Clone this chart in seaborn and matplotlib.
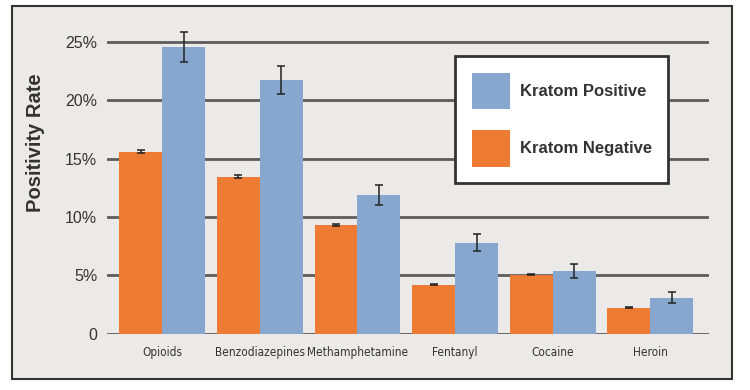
"""Positivity rate by drug class, kratom positive vs negative."""
import matplotlib
matplotlib.use("Agg")
import matplotlib.pyplot as plt
from matplotlib import font_manager
from matplotlib.patches import Patch, Rectangle
import pandas as pd
import seaborn as sns

# data (percent)
drugs = ["Opioids", "Benzodiazepines", "Methamphetamine", "Fentanyl", "Cocaine", "Heroin"]
negative = [15.6, 13.45, 9.3, 4.17, 5.03, 2.2]
negative_err = [0.1, 0.12, 0.08, 0.05, 0.05, 0.04]
positive = [24.55, 21.75, 11.9, 7.78, 5.38, 3.05]
positive_err = [1.3, 1.2, 0.87, 0.72, 0.6, 0.47]
groups = ["Kratom Negative", "Kratom Positive"]
yticks = [0, 5, 10, 15, 20, 25]
ytick_labels = ["0", "5%", "10%", "15%", "20%", "25%"]

ORANGE = "#EE7B33"
BLUE = "#88A7CF"
BG = "#EBEAE8"
TEXT = "#333333"

df = pd.DataFrame({
    "drug": drugs * 2,
    "group": [groups[0]] * len(drugs) + [groups[1]] * len(drugs),
    "rate": negative + positive,
})
errs = {groups[0]: negative_err, groups[1]: positive_err}

sns.set_style("white")
plt.rcParams["font.family"] = ["Liberation Sans", "DejaVu Sans"]

# narrow face for category labels, if one is installed
fonts = font_manager.fontManager.ttflist
names = {f.name for f in fonts}
if "Liberation Sans Narrow" in names:
    cat_font = dict(family="Liberation Sans Narrow", size=9.5, weight="bold")
elif any(f.name == "DejaVu Sans" and f.stretch == "condensed" for f in fonts):
    cat_font = dict(family="DejaVu Sans", stretch="condensed", size=8.5, weight="normal")
else:
    cat_font = dict(family="Liberation Sans", size=8.5, weight="normal")

fig = plt.figure(figsize=(7.5, 3.9), dpi=100)
fig.patch.set_facecolor("white")
# grey panel with dark frame, behind everything
panel = Rectangle((12 / 750, 1 - 379 / 390), 720 / 750, 373 / 390,
                  transform=fig.transFigure, facecolor=BG,
                  edgecolor=TEXT, linewidth=1.5, zorder=-10)
fig.add_artist(panel)

ax = fig.add_axes([107 / 750, 56.5 / 390, 602 / 750, 314.8 / 390])
ax.set_facecolor("none")
ax.set_zorder(1)

sns.barplot(data=df, x="drug", y="rate", hue="group", hue_order=groups,
            palette=[ORANGE, BLUE], width=0.88, errorbar=None,
            saturation=1, legend=False, linewidth=0, edgecolor="none", ax=ax)

# error bars at the bar centres
for container, g in zip(ax.containers, groups):
    xs = [p.get_x() + p.get_width() / 2 for p in container]
    ys = [p.get_height() for p in container]
    ax.errorbar(xs, ys, yerr=errs[g], fmt="none", ecolor="#222222",
                elinewidth=1.1, capsize=3, capthick=1.1, zorder=5)

ax.set_ylim(0, 27)
ax.set_xlim(-0.565, 5.6)
ax.set_yticks(yticks)
ax.set_yticklabels(ytick_labels)
ax.set_axisbelow(True)
ax.yaxis.grid(True, color="#5c5c5c", linewidth=2)
ax.xaxis.grid(False)
for s in ax.spines.values():
    s.set_visible(False)

ax.tick_params(axis="y", length=0, pad=7, labelsize=11.5, labelcolor=TEXT)
ax.tick_params(axis="x", length=0, pad=9, labelcolor=TEXT)
ax.set_xticks(range(len(drugs)))
ax.set_xticklabels(drugs, **cat_font)

ax.set_xlabel("")
ax.set_ylabel("Positivity Rate", fontsize=14.5, fontweight="bold", color=TEXT)
ax.yaxis.set_label_coords(-0.103, 0.607)

handles = [Patch(facecolor=BLUE, edgecolor="none"),
           Patch(facecolor=ORANGE, edgecolor="none")]
leg = ax.legend(handles, ["Kratom Positive", "Kratom Negative"],
                loc="upper left", bbox_to_anchor=(455 / 750, 1 - 56 / 390),
                bbox_transform=fig.transFigure, frameon=True, fancybox=False,
                framealpha=1, edgecolor=TEXT, facecolor="white",
                prop={"size": 12, "weight": "bold"},
                handlelength=2.28, handleheight=3.0, handletextpad=0.6,
                labelspacing=1.25, borderpad=1.0, borderaxespad=0)
leg.get_frame().set_linewidth(2)
for t in leg.get_texts():
    t.set_color(TEXT)

fig.savefig("out.png", dpi=100, facecolor=fig.get_facecolor())
